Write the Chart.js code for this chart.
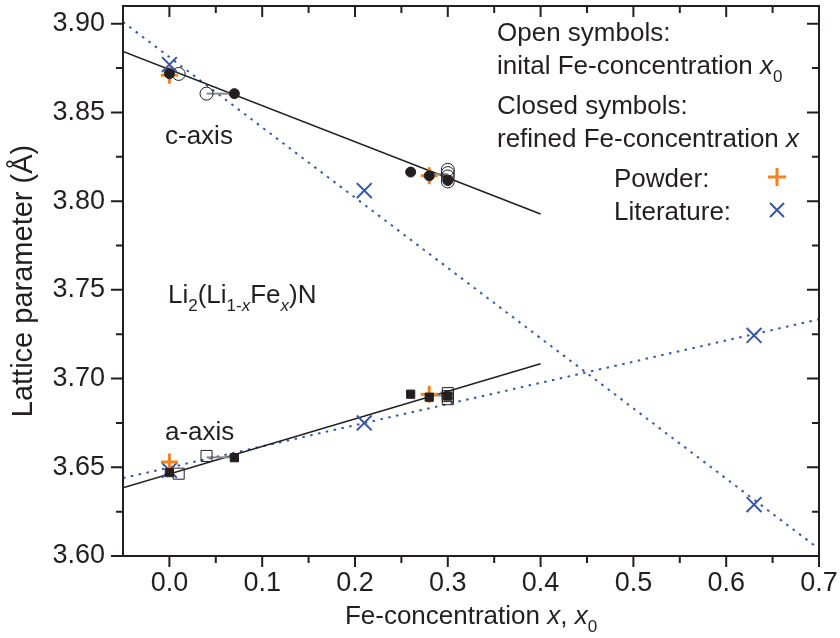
<!DOCTYPE html>
<html><head><meta charset="utf-8">
<script src="https://cdn.jsdelivr.net/npm/chart.js@4"></script>
<style>html,body{margin:0;padding:0;background:#fff;}#wrap{width:840px;height:638px;}</style>
</head><body><div id="wrap"><canvas id="c" width="840" height="638"></canvas></div>
<script>
// ---- data ----
const closedCircX = [0.00, 0.07, 0.26, 0.28, 0.30];
const closedCircY = [3.8719, 3.8606, 3.8164, 3.8143, 3.8116];
const openCircX   = [0.01, 0.04, 0.30, 0.30, 0.30, 0.30];
const openCircY   = [3.8717, 3.8606, 3.8177, 3.8158, 3.8139, 3.8111];
const closedSqX   = [0.00, 0.07, 0.26, 0.28, 0.30];
const closedSqY   = [3.6470, 3.6554, 3.6912, 3.6895, 3.6901];
const openSqX     = [0.01, 0.04, 0.30, 0.30, 0.30];
const openSqY     = [3.6464, 3.6564, 3.6918, 3.6901, 3.6884];
const powderX     = [0.00, 0.28];
const powderC     = [3.8710, 3.8143];
const powderA     = [3.6530, 3.6912];
const litX        = [0.00, 0.21, 0.63];
const litC        = [3.8770, 3.8060, 3.6290];
const litA        = [3.6483, 3.6750, 3.7243];
const fitX        = [-0.05, 0.40];
const fitC        = [3.8844, 3.7928];
const fitA        = [3.6384, 3.7084];
const litFitX     = [-0.05, 0.70];
const litFitC     = [3.9010, 3.6040];
const litFitA     = [3.6439, 3.7334];
const linkX       = [[0.04, 0.07], [0.28, 0.30], [0.04, 0.07], [0.28, 0.30]];
const linkY       = [[3.8606, 3.8606], [3.8152, 3.8152], [3.6556, 3.6556], [3.6905, 3.6905]];

const INK = '#231f20', ORANGE = '#f58220', BLUE = '#3556a6', GREY = '#8a8a8a';
const FONT = "'Liberation Sans', Arial, sans-serif";

const pts = (xs, ys) => xs.map((x, i) => ({x, y: ys[i]}));

const marker = (label, xs, ys, style, r, bg, bc, bw) => ({
  label, data: pts(xs, ys), showLine: false, pointStyle: style, pointRadius: r,
  pointHoverRadius: r, backgroundColor: bg, borderColor: bc, pointBorderWidth: bw, borderWidth: bw
});
const line = (label, xs, ys, color, width, dash) => ({
  label, data: pts(xs, ys), showLine: true, pointRadius: 0, pointHoverRadius: 0,
  borderColor: color, borderWidth: width, borderDash: dash || [], fill: false, tension: 0
});

const datasets = [
  marker('closed c', closedCircX, closedCircY, 'circle', 5, INK, INK, 1),
  marker('closed a', closedSqX, closedSqY, 'rect', 5.8, INK, INK, 1),
  marker('powder c', powderX, powderC, 'cross', 8.5, ORANGE, ORANGE, 3),
  marker('powder a', powderX, powderA, 'cross', 8.5, ORANGE, ORANGE, 3),
  marker('lit c', litX, litC, 'crossRot', 10.5, BLUE, BLUE, 2),
  marker('lit a', litX, litA, 'crossRot', 10.5, BLUE, BLUE, 2),
  marker('open c', openCircX, openCircY, 'circle', 6.5, 'rgba(0,0,0,0)', INK, 1),
  marker('open a', openSqX, openSqY, 'rect', 7.8, 'rgba(0,0,0,0)', INK, 1),
  ...linkX.map((xs, i) => line('link' + i, xs, linkY[i], GREY, 2)),
  line('fit c', fitX, fitC, INK, 1.5),
  line('fit a', fitX, fitA, INK, 1.5),
  line('lit fit c', litFitX, litFitC, BLUE, 2, [2.5, 5.5]),
  line('lit fit a', litFitX, litFitA, BLUE, 2, [2.5, 5.5])
];

function rich(ctx, x, y, parts, size, subSize, subDy, align) {
  const fnt = p => (p.it ? 'italic ' : '') + (p.sub ? subSize : size) + 'px ' + FONT;
  if (align === 'center') {
    let w = 0;
    for (const p of parts) { ctx.font = fnt(p); w += ctx.measureText(p.t).width; }
    x -= w / 2;
  }
  for (const p of parts) {
    ctx.font = fnt(p);
    ctx.fillText(p.t, x, y + (p.sub ? subDy : 0));
    x += ctx.measureText(p.t).width;
  }
}

const framePlugin = {
  id: 'frame',
  afterDraw(chart) {
    const {ctx, chartArea: a, scales: {x, y}} = chart;
    ctx.save();
    ctx.strokeStyle = INK;
    ctx.lineWidth = 2;
    ctx.strokeRect(a.left, a.top, a.right - a.left, a.bottom - a.top);
    const xMaj = x.ticks.map(t => t.value);
    const xMin = xMaj.map(v => v + 0.05).filter(v => v < x.max - 1e-9);
    const yMaj = y.ticks.map(t => t.value);
    const yMin = yMaj.map(v => v + 0.025).filter(v => v < y.max - 1e-9);
    ctx.beginPath();
    const vx = (v, len) => { const p = x.getPixelForValue(v);
      ctx.moveTo(p, a.bottom); ctx.lineTo(p, a.bottom + len);
      ctx.moveTo(p, a.top); ctx.lineTo(p, a.top + len); };
    const vy = (v, len) => { const p = y.getPixelForValue(v);
      ctx.moveTo(a.left, p); ctx.lineTo(a.left - len, p);
      ctx.moveTo(a.right, p); ctx.lineTo(a.right - len, p); };
    xMaj.forEach(v => vx(v, 11)); xMin.forEach(v => vx(v, 7));
    yMaj.forEach(v => vy(v, 12)); yMin.forEach(v => vy(v, 7));
    ctx.stroke();

    // text
    ctx.fillStyle = INK;
    ctx.textBaseline = 'alphabetic';
    ctx.textAlign = 'left';
    const S = 26, SS = 17;
    rich(ctx, 497, 41, [{t: 'Open symbols:'}], S, SS, 8);
    rich(ctx, 497, 74, [{t: 'inital Fe-concentration '}, {t: 'x', it: true}, {t: '0', sub: true}], S, SS, 8);
    rich(ctx, 497, 114, [{t: 'Closed symbols:'}], S, SS, 8);
    rich(ctx, 497, 147, [{t: 'refined Fe-concentration '}, {t: 'x', it: true}], S, SS, 8);
    rich(ctx, 614, 187, [{t: 'Powder:'}], S, SS, 8);
    rich(ctx, 614, 220, [{t: 'Literature:'}], S, SS, 8);
    // legend symbols
    ctx.lineWidth = 3; ctx.strokeStyle = ORANGE;
    ctx.beginPath(); ctx.moveTo(777 - 9, 177); ctx.lineTo(777 + 9, 177);
    ctx.moveTo(777, 177 - 9); ctx.lineTo(777, 177 + 9); ctx.stroke();
    ctx.lineWidth = 2; ctx.strokeStyle = BLUE;
    ctx.beginPath(); ctx.moveTo(777 - 7, 210 - 7); ctx.lineTo(777 + 7, 210 + 7);
    ctx.moveTo(777 - 7, 210 + 7); ctx.lineTo(777 + 7, 210 - 7); ctx.stroke();

    rich(ctx, 165, 144, [{t: 'c-axis'}], S, SS, 8);
    rich(ctx, 165, 440, [{t: 'a-axis'}], S, SS, 8);
    rich(ctx, 168, 303, [{t: 'Li'}, {t: '2', sub: true}, {t: '(Li'}, {t: '1-', sub: true}, {t: 'x', sub: true, it: true},
      {t: 'Fe'}, {t: 'x', sub: true, it: true}, {t: ')N'}], S, SS, 8);

    // x-axis title
    rich(ctx, (a.left + a.right) / 2, 624,
      [{t: 'Fe-concentration '}, {t: 'x', it: true}, {t: ', '}, {t: 'x', it: true}, {t: '0', sub: true}],
      26, 17, 8, 'center');
    ctx.restore();
  }
};

new Chart(document.getElementById('c'), {
  type: 'scatter',
  data: {datasets},
  options: {
    responsive: false,
    animation: false,
    events: [],
    layout: {autoPadding: false, padding: {top: 6, right: 21, left: 0, bottom: 0}},
    plugins: {legend: {display: false}, tooltip: {enabled: false}},
    scales: {
      x: {
        type: 'linear', min: -0.05, max: 0.70,
        grid: {display: false, drawTicks: false}, border: {display: false},
        ticks: {stepSize: 0.1, includeBounds: false, padding: 11, maxRotation: 0, autoSkip: false,
          color: INK, font: {family: FONT, size: 27, lineHeight: 1.2},
          callback: v => v.toFixed(1)},
        afterFit: s => { s.height = 82; s.paddingLeft = 0; s.paddingRight = 0; }
      },
      y: {
        type: 'linear', min: 3.60, max: 3.91,
        grid: {display: false, drawTicks: false}, border: {display: false},
        ticks: {stepSize: 0.05, includeBounds: false, padding: 18, autoSkip: false,
          color: INK, font: {family: FONT, size: 27, lineHeight: 1.2},
          callback: v => v.toFixed(2)},
        title: {display: true, text: 'Lattice parameter (Å)', color: INK,
          font: {family: FONT, size: 29, lineHeight: 1.2}, padding: {top: 7, bottom: 0}},
        afterFit: s => { s.width = 123; s.paddingTop = 0; s.paddingBottom = 0; }
      }
    }
  },
  plugins: [framePlugin]
});
</script></body></html>
